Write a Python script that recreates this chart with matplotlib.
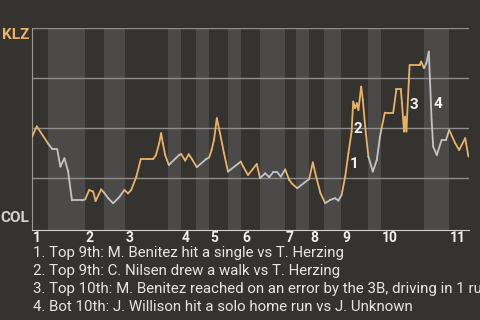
import numpy as np
import matplotlib.pyplot as plt
from matplotlib.collections import LineCollection

plt.rcParams['font.family'] = ['Roboto', 'DejaVu Sans']

# game progress (plate appearance scale) and KLZ win probability
progress = [0, 1.2, 4.1, 5.1, 6.3, 7.1, 8.1, 9.0, 10.0, 11.3, 12.5, 13.3, 14.3, 15.3, 15.9,
            17.3, 18.0, 19.0, 20.3, 21.8, 23.1, 24.0, 24.8, 26.1, 27.2, 29.0, 30.3, 31.0,
            31.8, 32.3, 32.7, 33.3, 34.2, 36.8, 37.3, 38.3, 39.2, 40.0, 41.2, 43.5, 44.3,
            44.9, 45.5, 46.2, 47.0, 48.0, 49.0, 52.2, 52.8, 54.0, 56.2, 57.0, 58.3, 59.3,
            60.3, 61.3, 62.2, 63.3, 64.3, 65.1, 66.3, 69.3, 70.2, 71.0, 72.1, 73.3, 74.5,
            75.8, 76.6, 77.4, 78.3, 79.1, 79.9, 80.3, 80.8, 81.2, 81.6, 82.3, 82.7, 83.3,
            84.1, 85.2, 86.2, 87.0, 87.4, 88.2, 90.3, 91.1, 92.2, 92.5, 93.0, 93.3, 93.6,
            94.2, 94.4, 96.9, 97.3, 98.0, 98.6, 99.2, 99.9, 100.3, 101.2, 102.4, 103.5,
            104.3, 105.8, 106.8, 108.3, 109.1]
win_prob = [0.455, 0.508, 0.42, 0.394, 0.394, 0.307, 0.349, 0.285, 0.138, 0.138, 0.138,
            0.143, 0.19, 0.182, 0.135, 0.193, 0.177, 0.15, 0.124, 0.154, 0.19, 0.173, 0.19,
            0.257, 0.345, 0.345, 0.345, 0.365, 0.424, 0.474, 0.424, 0.365, 0.315, 0.365,
            0.37, 0.337, 0.369, 0.344, 0.304, 0.344, 0.353, 0.39, 0.44, 0.549, 0.474, 0.374,
            0.282, 0.332, 0.307, 0.265, 0.32, 0.249, 0.274, 0.254, 0.279, 0.279, 0.257,
            0.293, 0.24, 0.22, 0.199, 0.245, 0.328, 0.26, 0.175, 0.124, 0.14, 0.149, 0.137,
            0.165, 0.257, 0.374, 0.482, 0.632, 0.599, 0.624, 0.59, 0.707, 0.64, 0.507,
            0.357, 0.282, 0.34, 0.457, 0.499, 0.577, 0.577, 0.694, 0.694, 0.624, 0.482,
            0.557, 0.482, 0.732, 0.815, 0.815, 0.832, 0.799, 0.824, 0.882, 0.54, 0.407,
            0.365, 0.44, 0.44, 0.49, 0.424, 0.39, 0.449, 0.357]

top_starts = [0, 13.25, 23.25, 37.25, 44.25, 52.25, 63.25, 69.25, 77.25, 87.25, 104.25]
bot_starts = [4, 18, 34, 41, 49, 57, 66, 73, 84, 98]
game_end = 109.25
innings = ['1', '2', '3', '4', '5', '6', '7', '8', '9', '10', '11']

# key plays: index of the point the play ends on
event_idx = [71, 72, 93, 100]
event_labels = ['1', '2', '3', '4']
event_text = [
    '1. Top 9th: M. Benitez hit a single vs T. Herzing',
    '2. Top 9th: C. Nilsen drew a walk vs T. Herzing',
    '3. Top 10th: M. Benitez reached on an error by the 3B, driving in 1 run',
    '4. Bot 10th: J. Willison hit a solo home run vs J. Unknown',
]

bg = '#35332f'
band = '#4b4a48'
orange = '#e9b366'
grey = '#c4c4c4'

fig = plt.figure(figsize=(4.8, 3.2), dpi=100, facecolor=bg)
ax = fig.add_axes([32/480, 1 - 230/320, 437/480, 202/320])
ax.set_facecolor(bg)

# shade bottom halves
for i, b in enumerate(bot_starts):
    ax.axvspan(b, top_starts[i + 1], color=band, lw=0, zorder=0)

for yv in [0.25, 0.5, 0.75, 1.0]:
    ax.axhline(yv, color='#8e8d8b', lw=1, zorder=1)

x = np.array(progress)
y = np.array(win_prob)
segs = np.stack([np.column_stack([x[:-1], y[:-1]]), np.column_stack([x[1:], y[1:]])], axis=1)
mids = (x[:-1] + x[1:]) / 2
is_bottom = np.zeros(len(mids), dtype=bool)
for i, b in enumerate(bot_starts):
    is_bottom |= (mids >= b) & (mids < top_starts[i + 1])
cols = [grey if bb else orange for bb in is_bottom]
ax.add_collection(LineCollection(segs, colors=cols, linewidths=1.3, zorder=3, capstyle='round',
                                 joinstyle='round'))

offsets = [(2, 0.6), (2.5, 10), (1.5, 1), (2.4, -13)]
for idx, lab, off in zip(event_idx, event_labels, offsets):
    mx = (x[idx - 1] + x[idx]) / 2
    my = (y[idx - 1] + y[idx]) / 2
    ax.annotate(lab, (mx, my), xytext=off, textcoords='offset points', color='#f2f2f2',
                fontsize=11, fontweight='bold', ha='left', va='center', zorder=4)

ax.set_xlim(0, game_end)
ax.set_ylim(-0.01, 1)
ax.set_yticks([])
ax.set_xticks([t + 0.25 for t in top_starts])
ax.set_xticklabels(innings, color='#f0f0f0', fontsize=10, fontweight='bold')
for t in ax.get_xticklabels():
    t.set_ha('left')
ax.tick_params(axis='x', length=0, pad=1)
for s in ['top', 'right']:
    ax.spines[s].set_visible(False)
ax.spines['bottom'].set_color('#d0d0d0')
ax.spines['left'].set_color('#9a9a98')

fig.text(29/480, 1 - 28/320, 'KLZ', color=orange, fontsize=11, fontweight='bold', ha='right', va='top')
fig.text(29/480, 1 - 225/320, 'COL', color='#d4d4d4', fontsize=11, fontweight='bold', ha='right', va='bottom')

for i, line in enumerate(event_text):
    fig.text(33/480, 1 - (253 + 17.9*i)/320, line, color='#e6e6e6', fontsize=10.8, va='center', ha='left')

fig.savefig('out.png', dpi=100, facecolor=bg)
